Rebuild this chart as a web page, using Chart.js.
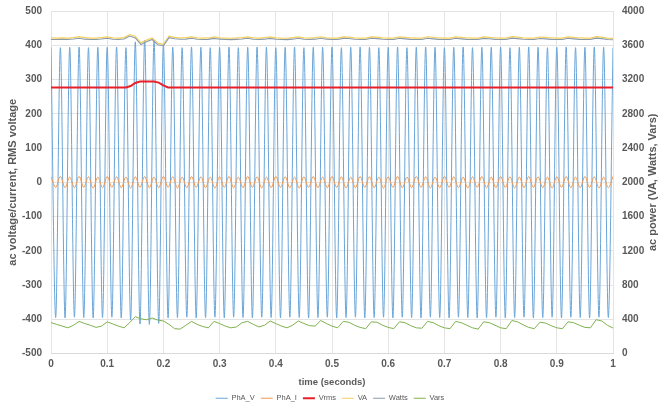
<!DOCTYPE html>
<html>
<head>
<meta charset="utf-8">
<script src="https://cdn.jsdelivr.net/npm/chart.js@4"></script>
<style>
html,body{margin:0;padding:0;background:#fff;}
#wrap{width:660px;height:407px;position:relative;}
</style>
</head>
<body>
<div id="wrap"><canvas id="c" width="660" height="407"></canvas></div>
<script>
// ---- data ----
const halfCycle = 1 / 120;   // sample spacing of waveform peaks (s)
const powerStep = 0.01;      // sample spacing of power values (s)
const xTicks = [0, 0.1, 0.2, 0.3, 0.4, 0.5, 0.6, 0.7, 0.8, 0.9, 1];
const seriesNames = ["PhA_V", "PhA_I", "Vrms", "VA", "Watts", "Vars"];

const phaV = [394,-395,393,-396,394,-394,395,-395,393,-396,394,-395,394,-394,395,-396,393,-402,410,-414,
  415,-415,414,-412,402,-396,394,-395,393,-394,395,-396,394,-395,393,-394,394,-396,395,-394,
  393,-395,394,-396,395,-394,394,-395,393,-396,394,-394,395,-395,393,-396,394,-395,394,-394,
  395,-396,393,-395,394,-394,395,-396,394,-395,393,-394,394,-396,395,-394,393,-395,394,-396,
  395,-394,394,-395,393,-396,394,-394,395,-395,393,-396,394,-395,394,-394,395,-396,393,-395,
  394,-394,395,-396,394,-395,393,-394,394,-396,395,-394,393,-395,394,-396,395,-394,394,-395,393];
const phaI = [16,-15,17,-16,15,-16,17,-15,16,-17,15,-16,17,-15,16,-16,15,-17,16,-15,
  17,-16,15,-16,17,-15,16,-17,15,-16,17,-15,16,-16,15,-17,16,-15,17,-16,
  15,-16,17,-15,16,-17,15,-16,17,-15,16,-16,15,-17,16,-15,17,-16,15,-16,
  17,-15,16,-17,15,-16,17,-15,16,-16,15,-17,16,-15,17,-16,15,-16,17,-15,
  16,-17,15,-16,17,-15,16,-16,15,-17,16,-15,17,-16,15,-16,17,-15,16,-17,
  15,-16,17,-15,16,-16,15,-17,16,-15,17,-16,15,-16,17,-15,16,-17,15,-16,17];
const vrms = [277,277,277,277,277,277,277,277,277,277,277,277,277,277,277,277,277,281,290,294,
  294,294,294,291,283,277,277,277,277,277,277,277,277,277,277,277,277,277,277,277,
  277,277,277,277,277,277,277,277,277,277,277,277,277,277,277,277,277,277,277,277,
  277,277,277,277,277,277,277,277,277,277,277,277,277,277,277,277,277,277,277,277,
  277,277,277,277,277,277,277,277,277,277,277,277,277,277,277,277,277,277,277,277,
  277,277,277,277,277,277,277,277,277,277,277,277,277,277,277,277,277,277,277,277,277];

const va = [3685,3683,3686,3684,3690,3700,3688,3684,3683,3690,3698,3686,3684,3690,3725,3705,3628,3660,3685,3625,
  3612,3705,3692,3685,3688,3698,3686,3683,3685,3697,3687,3684,3682,3685,3690,3698,3686,3684,3688,3697,
  3686,3683,3682,3688,3698,3686,3684,3688,3699,3687,3684,3683,3697,3695,3686,3683,3684,3698,3694,3686,
  3684,3683,3698,3692,3685,3683,3684,3699,3692,3685,3683,3684,3698,3692,3685,3683,3683,3697,3693,3685,
  3683,3684,3700,3694,3686,3683,3683,3696,3692,3685,3683,3684,3698,3692,3685,3683,3684,3700,3694,3683,3680];
const watts = [3668,3667,3669,3668,3673,3682,3671,3668,3667,3673,3681,3670,3668,3673,3708,3686,3608,3641,3667,3605,
  3594,3688,3676,3670,3672,3681,3670,3667,3669,3680,3671,3668,3666,3669,3673,3681,3670,3668,3671,3680,
  3670,3667,3666,3671,3681,3670,3668,3671,3682,3671,3668,3667,3680,3678,3670,3667,3668,3681,3677,3670,
  3668,3667,3681,3675,3669,3667,3668,3682,3675,3669,3667,3668,3681,3675,3669,3667,3667,3680,3676,3669,
  3667,3668,3683,3677,3670,3667,3667,3679,3675,3669,3667,3668,3681,3675,3669,3667,3668,3683,3677,3667,3664];
const vars = [360,340,320,300,330,375,350,330,305,320,370,345,320,300,360,430,405,395,415,390,
  380,340,290,285,330,375,340,315,300,375,350,320,300,310,360,375,340,310,330,380,
  350,320,300,330,380,350,325,320,385,350,320,300,375,365,330,305,290,370,365,330,
  305,290,370,360,325,300,295,375,360,325,300,290,375,360,330,300,285,370,360,330,
  300,290,385,370,335,305,290,365,355,325,300,290,370,360,330,305,300,395,380,330,297];

// ---- build chart ----
const wave = arr => arr.map((v, k) => ({x: k * halfCycle, y: v}));
const pow = arr => arr.map((v, i) => ({x: i * powerStep, y: v}));

const txt = '#595959';
const gridC = '#e4e4e4';
const FAM = '"Liberation Sans", Arial, sans-serif';

const rightTitle = {
  id: 'rightTitle',
  afterDraw(chart) {
    const ctx = chart.ctx, a = chart.chartArea;
    ctx.save();
    ctx.translate(653, (a.top + a.bottom) / 2);
    ctx.rotate(-Math.PI / 2);
    ctx.font = 'bold 11px ' + FAM;
    ctx.fillStyle = txt;
    ctx.textAlign = 'center';
    ctx.textBaseline = 'middle';
    ctx.fillText('ac power (VA, Watts, Vars)', 0, 0);
    ctx.restore();
  }
};

const mk = (label, data, color, width, axis, order, extra) => Object.assign({
  label, data, borderColor: color, backgroundColor: color, borderWidth: width,
  yAxisID: axis, pointRadius: 0, order, fill: false, tension: 0
}, extra || {});

const vFit = w => s => { s.width = w; s.paddingTop = 0; s.paddingBottom = 0; };

new Chart(document.getElementById('c'), {
  type: 'line',
  data: {
    datasets: [
      mk(seriesNames[0], wave(phaV), '#6aa5d8', 1, 'y', 6, {cubicInterpolationMode: 'monotone'}),
      mk(seriesNames[1], wave(phaI), '#ee9a55', 1, 'y', 5, {cubicInterpolationMode: 'monotone'}),
      mk(seriesNames[2], wave(vrms), '#e8202a', 2, 'y', 4),
      mk(seriesNames[3], pow(va), '#f3cf5e', 1.2, 'y2', 3),
      mk(seriesNames[4], pow(watts), '#8a9aab', 1.1, 'y2', 2),
      mk(seriesNames[5], pow(vars), '#7fb24f', 1, 'y2', 1)
    ]
  },
  options: {
    responsive: false,
    animation: false,
    events: [],
    layout: {padding: {top: 11, bottom: -5, left: 0, right: 0}},
    plugins: {
      tooltip: {enabled: false},
      legend: {
        position: 'bottom',
        labels: {
          sort: (a, b) => a.datasetIndex - b.datasetIndex,
          usePointStyle: true, pointStyle: 'line', pointStyleWidth: 12,
          boxHeight: 6, padding: 6, color: txt,
          font: {size: 7.5, family: FAM}
        }
      }
    },
    scales: {
      x: {
        type: 'linear', min: 0, max: 1,
        afterBuildTicks: s => { s.ticks = xTicks.map(v => ({value: v})); },
        ticks: {color: txt, padding: 5, font: {size: 10, weight: 'bold', family: FAM},
          callback: v => String(v)},
        grid: {color: gridC, drawTicks: false},
        border: {color: '#d9d9d9'},
        title: {display: true, text: 'time (seconds)', color: txt, padding: {top: 7, bottom: 0},
          font: {size: 9.5, weight: 'bold', family: FAM}},
        afterFit: s => { s.height = 35; s.paddingLeft = 0; s.paddingRight = 0; }
      },
      y: {
        position: 'left', min: -500, max: 500,
        ticks: {stepSize: 100, color: txt, padding: 9, font: {size: 10, weight: 'bold', family: FAM}},
        grid: {color: gridC, drawTicks: false},
        border: {display: false},
        title: {display: true, text: 'ac voltage/current, RMS voltage', color: txt, padding: {top: 6, bottom: 0},
          font: {size: 11, weight: 'bold', family: FAM}},
        afterFit: vFit(51)
      },
      y2: {
        position: 'right', min: 0, max: 4000,
        ticks: {stepSize: 400, color: txt, padding: 9, font: {size: 10, weight: 'bold', family: FAM},
          callback: v => String(v)},
        grid: {drawOnChartArea: false, drawTicks: false},
        border: {display: false},
        afterFit: vFit(47)
      }
    }
  },
  plugins: [rightTitle]
});
</script>
</body>
</html>
